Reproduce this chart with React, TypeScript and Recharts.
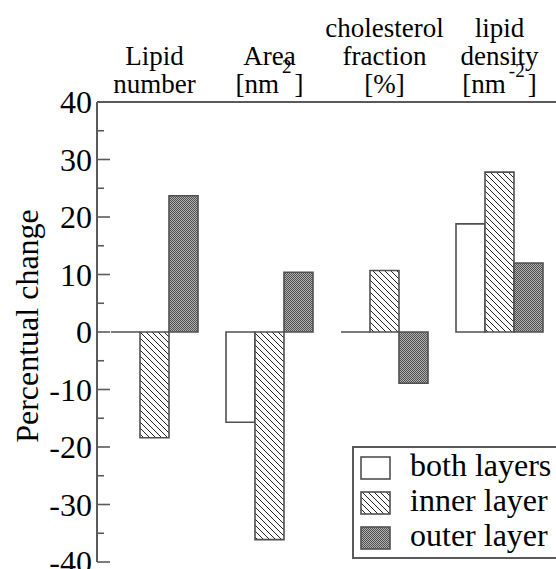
import React from 'react';
import { BarChart, Bar, XAxis, YAxis, Legend } from 'recharts';

const categories = ['Lipid number', 'Area', 'cholesterol fraction', 'lipid density'];
const bothLayers = [0, -15.7, 0, 18.8];
const innerLayer = [-18.4, -36.1, 10.7, 27.8];
const outerLayer = [23.7, 10.4, -8.9, 12.0];
const seriesNames = ['both layers', 'inner layer', 'outer layer'];
const yTicks = [-40, -35, -30, -25, -20, -15, -10, -5, 0, 5, 10, 15, 20, 25, 30, 35, 40];

// header text above each group; unit superscripts go on the last line
const categoryLines = [
  ['Lipid', 'number'],
  ['Area', '[nm'],
  ['cholesterol', 'fraction', '[%]'],
  ['lipid', 'density', '[nm'],
];
const unitSup = ['', '2', '', '-2'];
const unitClose = ['', ']', '', ']'];
const supShift = [0, 20, 0, 16];

const data = categories.map((name, i) => ({
  name,
  both: bothLayers[i],
  inner: innerLayer[i],
  outer: outerLayer[i],
}));

const FONT = 'Liberation Serif';
const AXIS = '#5a5a5a';
const fills = ['#ffffff', 'url(#hatch)', 'url(#stipple)'];
const css = `#root svg text, #root svg tspan, #root .serif { font-family: 'Liberation Serif' !important; }`;

const Patterns = ({ prefix }: { prefix: string }) => (
  <defs>
    <pattern id={prefix + 'hatch'} width={6} height={6} patternUnits="userSpaceOnUse">
      <rect width={6} height={6} fill="#fff" />
      <path d="M0,0 L6,6 M-1,5 L1,7 M5,-1 L7,1" stroke="#222" strokeWidth={1} />
    </pattern>
    <pattern id={prefix + 'stipple'} width={2} height={2} patternUnits="userSpaceOnUse">
      <rect width={2} height={2} fill="#b0b0b0" />
      <rect width={1} height={1} fill="#505050" />
      <rect x={1} y={1} width={1} height={1} fill="#505050" />
    </pattern>
  </defs>
);

// path instead of rect so a zero-height bar still shows its outline
const BarShape = (p: any) => {
  const { x, y, width, height, fill } = p;
  const top = height < 0 ? y + height : y;
  const h = Math.abs(height);
  return (
    <path
      d={`M${x},${top} h${width} v${h} h${-width} Z`}
      fill={fill}
      stroke="#505050"
      strokeWidth={1.6}
    />
  );
};

const CategoryTick = (p: any) => {
  const { x, y, payload } = p;
  const i = categories.indexOf(payload.value);
  const lines = categoryLines[i] || [];
  const n = lines.length;
  return (
    <text className="serif" textAnchor="middle" fontSize={27} fontFamily={FONT} fill="#000">
      {lines.map((ln, k) => {
        const base = y - 9 - (n - 1 - k) * 28;
        const last = k === n - 1;
        return (
          <React.Fragment key={k}>
            <tspan x={x} y={base}>{ln}</tspan>
            {last && unitSup[i] ? (
              <>
                <tspan dx={3} dy={-supShift[i]} fontSize={19}>{unitSup[i]}</tspan>
                <tspan dx={3} dy={supShift[i]}>{unitClose[i]}</tspan>
              </>
            ) : null}
          </React.Fragment>
        );
      })}
    </text>
  );
};

const LeftTick = (p: any) => {
  const { x, y, payload } = p;
  const v = payload.value;
  const major = v % 10 === 0;
  return (
    <g>
      <line x1={x} x2={x + (major ? 13 : 7)} y1={y} y2={y} stroke={AXIS} strokeWidth={1.6} />
      {major ? (
        <text className="serif" x={x - 5} y={y} dy={11} textAnchor="end" fontSize={32} fontFamily={FONT} fill="#000">
          {String(v)}
        </text>
      ) : null}
    </g>
  );
};

const RightTick = (p: any) => {
  const { x, y, payload } = p;
  const major = payload.value % 10 === 0;
  return <line x1={x} x2={x - (major ? 13 : 7)} y1={y} y2={y} stroke={AXIS} strokeWidth={1.6} />;
};

const YLabel = (p: any) => {
  const vb = p.viewBox || { x: 0, y: 0, width: 0, height: 0 };
  const lx = vb.x + 1;
  const ly = vb.y + vb.height / 2 - 6;
  return (
    <text className="serif" x={lx} y={ly} transform={`rotate(-90, ${lx}, ${ly})`} textAnchor="middle" fontSize={32} fontFamily={FONT} fill="#000">
      Percentual change
    </text>
  );
};

const LegendBox = () => (
  <svg width={215} height={114} style={{ display: 'block' }}>
    <Patterns prefix="lg-" />
    <rect x={1} y={1} width={240} height={111} fill="#fff" stroke={AXIS} strokeWidth={2} />
    {seriesNames.map((s, i) => (
      <g key={s}>
        <rect
          x={9}
          y={11 + i * 35}
          width={29}
          height={22}
          fill={i === 0 ? '#fff' : i === 1 ? 'url(#lg-hatch)' : 'url(#lg-stipple)'}
          stroke="#505050"
          strokeWidth={1.6}
        />
        <text className="serif" x={58} y={30 + i * 35} fontSize={32} fontFamily={FONT} fill="#000">
          {s}
        </text>
      </g>
    ))}
  </svg>
);

export default function App() {
  return (
    <div style={{ position: 'absolute', left: 0, top: 0, width: 556, height: 569, background: '#fff' }}>
      <style>{css}</style>
      <BarChart
        width={556}
        height={569}
        data={data}
        margin={{ top: 2, right: -1, bottom: 7, left: 37 }}
        barCategoryGap={14}
        barGap={0}
      >
        <Patterns prefix="" />
        <XAxis
          xAxisId="t"
          dataKey="name"
          orientation="top"
          height={100}
          tickSize={0}
          tickMargin={0}
          tickLine={false}
          tick={<CategoryTick />}
          axisLine={{ stroke: AXIS, strokeWidth: 2 }}
          interval={0}
        />
        <XAxis
          xAxisId="b"
          dataKey="name"
          orientation="bottom"
          height={0}
          tick={false}
          tickLine={false}
          axisLine={{ stroke: AXIS, strokeWidth: 2 }}
        />
        <YAxis
          yAxisId="l"
          type="number"
          domain={[-40, 40]}
          ticks={yTicks}
          interval={0}
          width={60}
          tickSize={0}
          tickMargin={0}
          tickLine={false}
          tick={<LeftTick />}
          axisLine={{ stroke: AXIS, strokeWidth: 2 }}
          allowDataOverflow
          label={<YLabel />}
        />
        <YAxis
          yAxisId="r"
          orientation="right"
          type="number"
          domain={[-40, 40]}
          ticks={yTicks}
          interval={0}
          width={0}
          tickSize={0}
          tickMargin={0}
          tickLine={false}
          tick={<RightTick />}
          axisLine={{ stroke: AXIS, strokeWidth: 2 }}
          allowDataOverflow
        />
        <Legend
          layout="vertical"
          align="center"
          verticalAlign="middle"
          content={<LegendBox />}
          wrapperStyle={{ left: 352, top: 446, width: 215, height: 114 }}
        />
        {['both', 'inner', 'outer'].map((k, i) => (
          <Bar
            key={k}
            xAxisId="t"
            yAxisId="l"
            dataKey={k}
            name={seriesNames[i]}
            fill={fills[i]}
            shape={<BarShape />}
            isAnimationActive={false}
          />
        ))}
      </BarChart>
    </div>
  );
}
